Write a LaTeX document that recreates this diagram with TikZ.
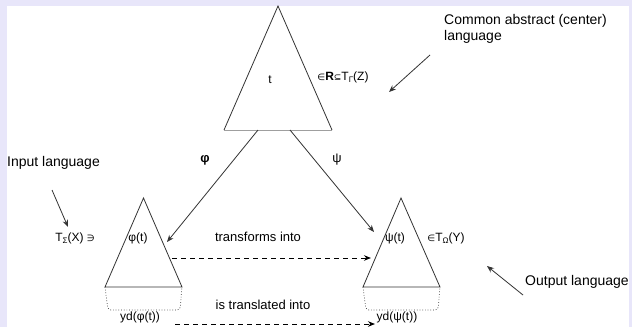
\documentclass[tikz,border=0pt]{standalone}
\usepackage{fontspec}
\setmainfont{Liberation Sans}
\newfontfamily\symfont{DejaVu Sans}
\usepackage{xcolor}
\usepackage{tikz}
\usetikzlibrary{arrows.meta, positioning, calc}

\definecolor{rand}{HTML}{E8E6FA}
\definecolor{lijn}{HTML}{333333}

\newcommand{\smsym}[1]{{\symfont\fontsize{9}{9}\selectfont #1}}
\newcommand{\subg}[1]{\raisebox{-0.35ex}{\fontsize{8}{8}\selectfont #1}}

\begin{document}
\begin{tikzpicture}[x=1pt, y=-1pt,
    font=\fontsize{12}{14}\selectfont,
    boom/.style={draw=lijn, line width=0.8pt},
    wijs/.style={-{Stealth[length=7pt, width=5.5pt]}, draw=lijn, line width=0.8pt},
    stip/.style={-{Stealth[length=7pt, width=5.5pt]}, dash pattern=on 5pt off 4pt, line width=1pt},
    opb/.style={draw=lijn, dotted, line width=0.7pt, rounded corners=3pt},
    groot/.style={font=\fontsize{14}{16}\selectfont, align=left, inner sep=0pt}
  ]
    % background
    \fill[rand] (0,0) rectangle (632,327);
    \fill[white] (7,6) rectangle (629,327);
    \useasboundingbox (0,0) rectangle (632,327);

    % trees
    \coordinate (ctop) at (278,6);
    \coordinate (cl) at (224,130);
    \coordinate (cr) at (332,130);
    \coordinate (ltop) at (143.5,198);
    \coordinate (ll) at (105,287);
    \coordinate (lr) at (182,287);
    \coordinate (rtop) at (401,198);
    \coordinate (rl) at (363,287);
    \coordinate (rr) at (440,287);
    \draw[boom] (cl) -- (ctop) -- (cr);
    \draw[gray!75, line width=0.9pt] (cl) -- (cr);
    \draw[boom] (ll) -- (ltop) -- (lr) -- cycle;
    \draw[boom] (rl) -- (rtop) -- (rr) -- cycle;

    % yields
    \draw[opb] (ll) -- (108,310) -- (180,310) -- (lr);
    \draw[opb] (rl) -- (366,310) -- (438,310) -- (rr);

    % labels
    \node (t) at (270,80) {t};
    \node (inR) at (343,77) {\smsym{∈}\textbf{R}\smsym{⊆}T\subg{Γ}(Z)};
    \node (phit) at (138,238) {φ(t)};
    \node (psit) at (395,238) {ψ(t)};
    \node (inT) at (446,238) {\smsym{∈}T\subg{Ω}(Y)};
    \node (TX) at (75,238) {T\subg{Σ}(X) \smsym{∋}};
    \node (ydl) at (140,317) {yd(φ(t))};
    \node (ydr) at (397,317) {yd(ψ(t))};
    \node[font=\fontsize{13}{15}\selectfont] (trf) at (258,237) {transforms into};
    \node[font=\fontsize{13}{15}\selectfont] (trl) at (263,305) {is translated into};
    \node[font=\fontsize{13}{15}\selectfont] (phi) at (205,160) {\textbf{φ}};
    \node[font=\fontsize{13}{15}\selectfont] (psi) at (337,160) {ψ};
    \node[groot, anchor=west] (common) at (444,29) {Common abstract (center)\\language};
    \node[groot, anchor=west] (input) at (7,163) {Input language};
    \node[groot, anchor=west] (output) at (525,282) {Output language};

    % mappings
    \coordinate (phi0) at (258,130);
    \coordinate (phi1) at (167,242);
    \coordinate (psi0) at (290,130);
    \coordinate (psi1) at (374,232);
    \draw[wijs] (phi0) -- (phi1);
    \draw[wijs] (psi0) -- (psi1);
    \draw[stip] (172,258) coordinate (tf0) -- (371,258) coordinate (tf1);
    \draw[stip] (175,324) coordinate (tl0) -- (375,324) coordinate (tl1);

    % pointers
    \coordinate (c0) at (430,55);
    \coordinate (c1) at (389,92);
    \coordinate (i0) at (52,190);
    \coordinate (i1) at (68,227);
    \coordinate (o0) at (523,295);
    \coordinate (o1) at (487,266);
    \draw[wijs] (c0) -- (c1);
    \draw[wijs] (i0) -- (i1);
    \draw[wijs] (o0) -- (o1);
\end{tikzpicture}
\end{document}
